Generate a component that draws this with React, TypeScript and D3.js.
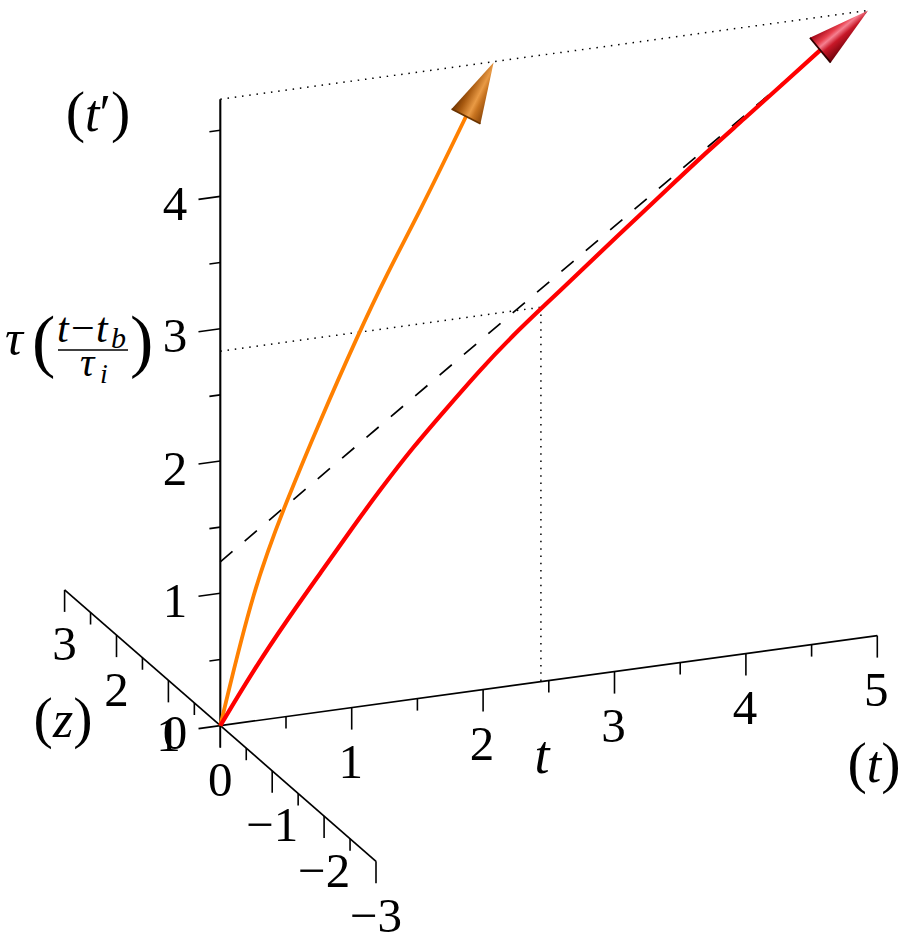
import React from 'react';
import * as d3 from 'd3';

// ---------- data ----------
const tTickValues = d3.range(0, 5.001, 0.5);
const tpTickValues = d3.range(0, 4.501, 0.5);
const zTickValues = d3.range(-3, 3.001, 0.5);
const tLabels = [1, 2, 3, 4, 5];
const tpLabels = [0, 1, 2, 3, 4];
const zLabels = [3, 2, 1, 0, -1, -2, -3];

// red curve (t, t')
const redCurve: [number, number][] = [
  [0, 0], [0.254, 0.386], [0.508, 0.729], [0.761, 1.048], [1.014, 1.37],
  [1.215, 1.615], [1.469, 1.908], [1.723, 2.164], [1.976, 2.419], [2.23, 2.649],
  [2.484, 2.854], [2.737, 3.058], [2.991, 3.264], [3.449, 3.63], [3.704, 3.833],
  [3.982, 4.04], [4.313, 4.292], [4.566, 4.484], [4.93, 4.735],
];
// orange curve (t, t')
const orangeCurve: [number, number][] = [
  [0, 0], [0.254, 1.015], [0.507, 1.635], [0.761, 2.205], [1.04, 2.795],
  [1.269, 3.244], [1.522, 3.687], [1.775, 4.168], [1.87, 4.35], [2.08, 4.73],
];
// dashed line (t, t')
const dashedLine: [number, number][] = [[0, 1.238], [4.93, 4.735]];
// top dotted line
const topDotted: [number, number][] = [[0, 4.735], [4.93, 4.735]];
// marker point on the red curve
const tStar = 2.44;
const tpStar = 2.83;
const tpAxisTop = 4.735;

// ---------- projection via d3 scales ----------
const originX = 220.3;
const xT = d3.scaleLinear().domain([0, 5]).range([0, 657]);
const yT = d3.scaleLinear().domain([0, 5]).range([0, -90]);
const yTp = d3.scaleLinear().domain([0, 4]).range([725.6, 196.4]);
const xZ = d3.scaleLinear().domain([0, 3]).range([0, -155.7]);
const yZ = d3.scaleLinear().domain([0, 3]).range([0, -135.7]);

function proj(t: number, tp: number, z = 0): [number, number] {
  return [originX + xT(t) + xZ(z), yTp(tp) + yT(t) + yZ(z)];
}

const FONT = 'Liberation Serif, DejaVu Serif, serif';
const tDir = (() => {
  const a = proj(0, 0), b = proj(1, 0);
  const dx = b[0] - a[0], dy = b[1] - a[1];
  const l = Math.hypot(dx, dy);
  return [dx / l, dy / l];
})();

const smoothLine = d3.line<[number, number]>()
  .x((d) => proj(d[0], d[1])[0])
  .y((d) => proj(d[0], d[1])[1])
  .curve(d3.curveBasis);
const straightLine = d3.line<[number, number]>()
  .x((d) => proj(d[0], d[1])[0])
  .y((d) => proj(d[0], d[1])[1]);

function Cone({ curve, id, stops, edge }: { curve: [number, number][]; id: string; stops: [number, string][]; edge: string }) {
  const tip = proj(...curve[curve.length - 1]);
  const base = proj(...curve[curve.length - 2]);
  const dx = tip[0] - base[0], dy = tip[1] - base[1];
  const l = Math.hypot(dx, dy);
  const ux = dx / l, uy = dy / l;
  const nx = -uy, ny = ux;
  const hw = 16.2;
  const p1: [number, number] = [base[0] - hw * nx, base[1] - hw * ny];
  const p2: [number, number] = [base[0] + hw * nx, base[1] + hw * ny];
  return (
    <g>
      <defs>
        <linearGradient id={id} gradientUnits="userSpaceOnUse" x1={p1[0]} y1={p1[1]} x2={p2[0]} y2={p2[1]}>
          {stops.map(([o, c], i) => <stop key={i} offset={o} stopColor={c} />)}
        </linearGradient>
      </defs>
      <path d={`M${tip[0]},${tip[1]}L${p1[0]},${p1[1]}L${p2[0]},${p2[1]}Z`} fill={`url(#${id})`} />
      <line x1={p1[0]} y1={p1[1]} x2={p2[0]} y2={p2[1]} stroke={edge} strokeWidth={1.8} />
    </g>
  );
}

const txt = { fontFamily: FONT } as React.CSSProperties;
const itxt = { fontFamily: FONT, fontStyle: 'italic' } as React.CSSProperties;
const DIGIT = 49;

export default function App() {
  const O = proj(0, 0);
  const tEnd = proj(5, 0);
  const tpTop = proj(0, tpAxisTop);
  const zPos = proj(0, 0, 3);
  const zNeg = proj(0, 0, -3);

  const isMajor = (v: number) => Math.abs(v - Math.round(v)) < 1e-6;

  const starPt = proj(tStar, tpStar);
  const starLeft = proj(0, tpStar);
  const starBase = proj(tStar, 0);

  return (
    <svg width={908} height={942} style={{ position: 'absolute', left: 0, top: 0, background: '#fff', fontFamily: FONT }}>
      <rect x={0} y={0} width={908} height={942} fill="#fff" />
      {/* axes */}
      <line x1={O[0]} y1={O[1]} x2={tEnd[0]} y2={tEnd[1]} stroke="#000" strokeWidth={1.7} />
      <line x1={O[0]} y1={O[1]} x2={tpTop[0]} y2={tpTop[1]} stroke="#000" strokeWidth={2.1} />
      <line x1={zPos[0]} y1={zPos[1]} x2={zNeg[0]} y2={zNeg[1]} stroke="#000" strokeWidth={1.7} />

      {/* t ticks (downward) */}
      {tTickValues.map((v) => {
        const p = proj(v, 0);
        const L = isMajor(v) ? 22 : 12;
        return <line key={'tt' + v} x1={p[0]} y1={p[1]} x2={p[0]} y2={p[1] + L} stroke="#000" strokeWidth={1.6} />;
      })}
      {/* z ticks (downward) */}
      {zTickValues.map((v) => {
        const p = proj(0, 0, v);
        const L = isMajor(v) ? 22 : 12;
        return <line key={'zt' + v} x1={p[0]} y1={p[1]} x2={p[0]} y2={p[1] + L} stroke="#000" strokeWidth={1.6} />;
      })}
      {/* t' ticks (along -t) */}
      {tpTickValues.map((v) => {
        const p = proj(0, v);
        const L = isMajor(v) ? 22 : 11;
        return <line key={'pt' + v} x1={p[0]} y1={p[1]} x2={p[0] - L * tDir[0]} y2={p[1] - L * tDir[1]} stroke="#000" strokeWidth={1.6} />;
      })}

      {/* tick labels */}
      {tLabels.map((v) => {
        const p = proj(v, 0);
        return <text key={'tl' + v} style={txt} x={p[0] - 1} y={p[1] + 54 + 16.5} fontSize={DIGIT} textAnchor="middle">{v}</text>;
      })}
      {zLabels.map((v) => {
        const p = proj(0, 0, v);
        return <text key={'zl' + v} style={txt} x={p[0]} y={p[1] + 54 + 16.5} fontSize={DIGIT} textAnchor="middle">{v < 0 ? '\u2212' + Math.abs(v) : v}</text>;
      })}
      {tpLabels.map((v) => {
        const p = proj(0, v);
        return <text key={'pl' + v} style={txt} x={175} y={p[1] + 7 + 16.5} fontSize={DIGIT} textAnchor="middle">{v}</text>;
      })}

      {/* axis titles */}
      <text style={txt} x={98} y={131} textAnchor="middle">
        <tspan fontSize={58}>(</tspan>
        <tspan fontSize={52} style={itxt}>t</tspan>
        <tspan fontSize={52}>{'\u2032'}</tspan>
        <tspan fontSize={58}>)</tspan>
      </text>
      <text style={txt} x={63} y={737} textAnchor="middle">
        <tspan fontSize={58}>(</tspan>
        <tspan fontSize={52} style={itxt}>z</tspan>
        <tspan fontSize={58}>)</tspan>
      </text>
      <text style={txt} x={874} y={782} textAnchor="middle">
        <tspan fontSize={58}>(</tspan>
        <tspan fontSize={52} style={itxt}>t</tspan>
        <tspan fontSize={58}>)</tspan>
      </text>
      <text style={itxt} x={starBase[0] + 1} y={773} textAnchor="middle" fontSize={54}>t</text>

      {/* tau label */}
      <text style={itxt} x={5} y={355} fontSize={50}>τ</text>
      <text style={txt} x={32} y={364} fontSize={70}>(</text>
      <text style={txt} y={342} fontSize={42}>
        <tspan x={57} style={itxt}>t</tspan>
        <tspan x={71}>{'\u2212'}</tspan>
        <tspan x={96} style={itxt}>t</tspan>
        <tspan x={111} y={348} fontSize={30} style={itxt}>b</tspan>
      </text>
      <line x1={58} y1={350} x2={128} y2={350} stroke="#000" strokeWidth={1.6} />
      <text style={itxt} x={80} y={376} fontSize={40}>τ</text>
      <text style={itxt} x={100} y={383} fontSize={28}>i</text>
      <text style={txt} x={130} y={364} fontSize={70}>)</text>

      {/* dotted guide lines */}
      <path d={straightLine(topDotted) || ''} fill="none" stroke="#000" strokeWidth={1.5} strokeDasharray="1.5 5.8" />
      <line x1={starLeft[0]} y1={starLeft[1]} x2={starPt[0]} y2={starPt[1]} stroke="#000" strokeWidth={1.5} strokeDasharray="1.5 5.8" />
      <line x1={starPt[0]} y1={starPt[1]} x2={starBase[0]} y2={starBase[1]} stroke="#000" strokeWidth={1.5} strokeDasharray="1.5 5.8" />

      {/* dashed line */}
      <path d={straightLine(dashedLine) || ''} fill="none" stroke="#000" strokeWidth={1.7} strokeDasharray="16 16" />

      {/* curves */}
      <path d={smoothLine(orangeCurve.slice(0, -1)) || ''} fill="none" stroke="#ff8000" strokeWidth={3.8} />
      <path d={smoothLine(redCurve.slice(0, -1)) || ''} fill="none" stroke="#ff0000" strokeWidth={4.2} />

      {/* arrow heads */}
      <Cone curve={orangeCurve} id="gOr" edge="#6a3400"
        stops={[[0, '#6e3200'], [0.25, '#a85a10'], [0.55, '#e99a45'], [0.7, '#c87420'], [1, '#8a4508']]} />
      <Cone curve={redCurve} id="gRd" edge="#300000"
        stops={[[0, '#9a0010'], [0.3, '#e8404e'], [0.42, '#f58090'], [0.6, '#c81828'], [1, '#6a0008']]} />
    </svg>
  );
}
